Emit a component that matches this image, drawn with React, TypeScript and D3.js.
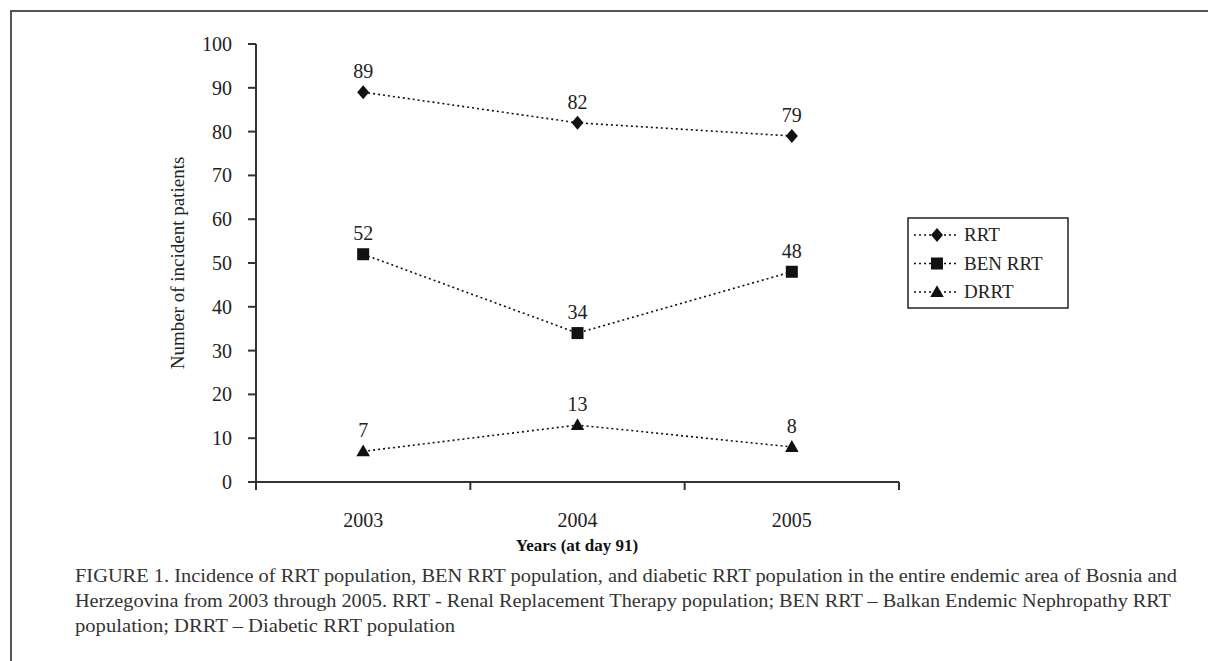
import React from 'react';
import * as d3 from 'd3';

const years = ['2003', '2004', '2005'];
const seriesNames = ['RRT', 'BEN RRT', 'DRRT'];
const rrt = [89, 82, 79];
const benRrt = [52, 34, 48];
const drrt = [7, 13, 8];
const yTicks = [0, 10, 20, 30, 40, 50, 60, 70, 80, 90, 100];
const captionLines = [
  'FIGURE 1. Incidence of RRT population, BEN RRT population, and diabetic RRT population in the entire endemic area of Bosnia and',
  'Herzegovina from 2003 through 2005. RRT - Renal Replacement Therapy population; BEN RRT \u2013 Balkan Endemic Nephropathy RRT',
  'population; DRRT \u2013 Diabetic RRT population',
];
const captionWidths = [1102, 1096, 380];

const W = 1208;
const H = 661;
const FONT = '"Liberation Serif", "DejaVu Serif", serif';

const Marker: React.FC<{ kind: string; x: number; y: number }> = ({ kind, x, y }) => {
  if (kind === 'diamond') {
    return <path d="M0,-7L6,0L0,7L-6,0Z" transform={`translate(${x},${y})`} fill="#111" />;
  }
  if (kind === 'square') {
    return <rect x={x - 6} y={y - 6} width={12} height={12} fill="#111" />;
  }
  const t = d3.symbol().type(d3.symbolTriangle).size(80)();
  return <path d={t || ''} transform={`translate(${x},${y + 1})`} fill="#111" />;
};

const App: React.FC = () => {
  const left = 256;
  const right = 899;
  const x = d3.scaleBand().domain(years).range([left, right]);
  const y = d3.scaleLinear().domain([0, 100]).range([482, 44]);
  const cx = (yr: string) => (x(yr) || 0) + x.bandwidth() / 2;

  const series = [
    { name: seriesNames[0], values: rrt, kind: 'diamond' },
    { name: seriesNames[1], values: benRrt, kind: 'square' },
    { name: seriesNames[2], values: drrt, kind: 'triangle' },
  ];

  const line = d3
    .line<number>()
    .x((_, i) => cx(years[i]))
    .y((d) => y(d));

  const xTicks = [left, ...years.map((yr) => (x(yr) || 0) + x.bandwidth())];

  return (
    <svg width={W} height={H} style={{ position: 'absolute', left: 0, top: 0, background: '#fff' }}>
      <rect x={0} y={0} width={W} height={H} fill="#fff" />
      {/* frame */}
      <line x1={11} y1={11} x2={W} y2={11} stroke="#555" strokeWidth={2} />
      <line x1={11} y1={10} x2={11} y2={H} stroke="#555" strokeWidth={2} />

      {/* y axis */}
      <line x1={left} y1={y(100)} x2={left} y2={y(0) + 8} stroke="#333" strokeWidth={2} />
      {yTicks.map((t) => (
        <g key={t}>
          <line x1={left - 8} x2={left} y1={y(t)} y2={y(t)} stroke="#333" strokeWidth={2} />
          <text x={left - 24} y={y(t) + 7} textAnchor="end" fontFamily={FONT} fontSize={20} fill="#222">
            {t}
          </text>
        </g>
      ))}

      {/* x axis */}
      <line x1={left} y1={y(0)} x2={right} y2={y(0)} stroke="#333" strokeWidth={2} />
      {xTicks.map((t, i) => (
        <line key={i} x1={t} x2={t} y1={y(0)} y2={y(0) + 8} stroke="#333" strokeWidth={2} />
      ))}
      {years.map((yr) => (
        <text key={yr} x={cx(yr)} y={527} textAnchor="middle" fontFamily={FONT} fontSize={20} fill="#222">
          {yr}
        </text>
      ))}
      <text x={577} y={551} textAnchor="middle" fontFamily={FONT} fontSize={17} fontWeight="bold" fill="#111">
        Years (at day 91)
      </text>
      <text
        transform={`translate(184,263) rotate(-90)`}
        textAnchor="middle"
        fontFamily={FONT}
        fontSize={19}
        fill="#222"
      >
        Number of incident patients
      </text>

      {/* series */}
      {series.map((s) => (
        <g key={s.name}>
          <path d={line(s.values) || ''} fill="none" stroke="#111" strokeWidth={1.6} strokeDasharray="2,3" />
          {s.values.map((v, i) => (
            <g key={i}>
              <Marker kind={s.kind} x={cx(years[i])} y={y(v)} />
              <text x={cx(years[i])} y={y(v) - 14} textAnchor="middle" fontFamily={FONT} fontSize={20} fill="#222">
                {v}
              </text>
            </g>
          ))}
        </g>
      ))}

      {/* legend */}
      <rect x={908} y={218} width={160} height={90} fill="#fff" stroke="#222" strokeWidth={1.5} />
      {series.map((s, i) => {
        const ly = 235 + i * 28.5;
        return (
          <g key={s.name}>
            <line x1={914} x2={958} y1={ly} y2={ly} stroke="#111" strokeWidth={1.6} strokeDasharray="2,3" />
            <Marker kind={s.kind} x={937} y={ly} />
            <text x={964} y={ly + 6} fontFamily={FONT} fontSize={19} fill="#222">
              {s.name}
            </text>
          </g>
        );
      })}

      {/* caption */}
      {captionLines.map((c, i) => (
        <text
          key={i}
          x={75}
          y={582 + i * 25}
          fontFamily={FONT}
          fontSize={18}
          fill="#333"
          textLength={captionWidths[i]}
          lengthAdjust="spacingAndGlyphs"
        >
          {c}
        </text>
      ))}
    </svg>
  );
};

export default App;
